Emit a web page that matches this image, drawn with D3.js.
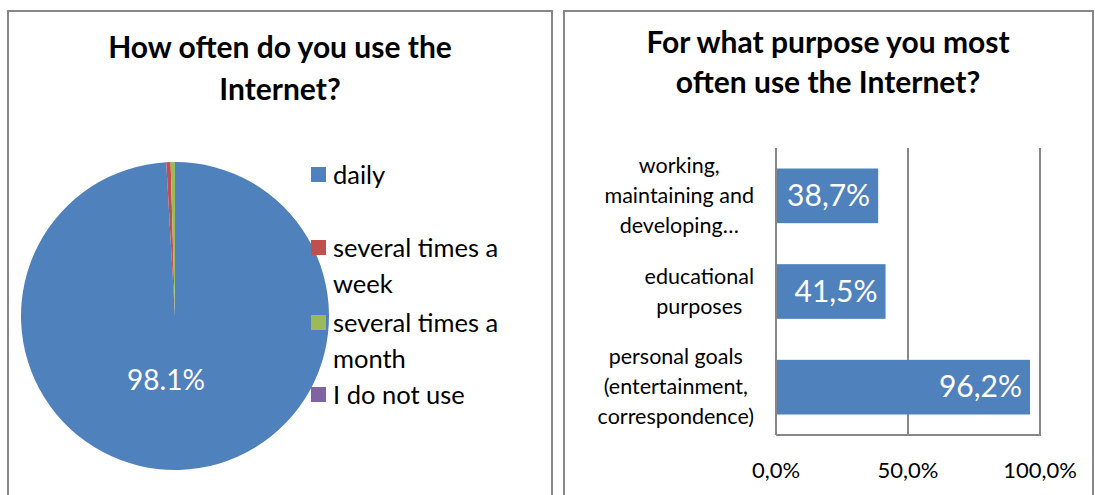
<!DOCTYPE html>
<html><head><meta charset="utf-8">
<script src="https://cdn.jsdelivr.net/npm/d3@7"></script>
<style>body{margin:0;background:#fff}svg{display:block}text{font-family:Lato,"Noto Sans",sans-serif}</style>
</head><body><svg id="c" width="1095" height="495"></svg>
<script>
// Pie data
const pieTitle = ["How often do you use the", "Internet?"];
const pieCategories = ["daily", "several times a week", "several times a month", "I do not use"];
const pieLegendLines = [["daily"], ["several times a", "week"], ["several times a", "month"], ["I do not use"]];
const pieValues = [98.1, 0.45, 0.45, 0];
const pieColors = ["#4F81BD", "#C0504D", "#9BBB59", "#8064A2"];
const pieLabel = "98.1%";

// Bar data
const barTitle = ["For what purpose you most", "often use the Internet?"];
const barCategories = [
  ["working,", "maintaining and", "developing…"],
  ["educational", "purposes"],
  ["personal goals", "(entertainment,", "correspondence)"]
];
const barValues = [38.7, 41.5, 96.2];
const barLabels = ["38,7%", "41,5%", "96,2%"];
const xTicks = [0, 50, 100];
const xTickLabels = ["0,0%", "50,0%", "100,0%"];

const svg = d3.select("#c");
const border = "#878787";

// panels
svg.append("rect").attr("x", 8).attr("y", 11).attr("width", 544).attr("height", 500)
  .attr("fill", "none").attr("stroke", border).attr("stroke-width", 2);
svg.append("rect").attr("x", 564).attr("y", 11).attr("width", 529).attr("height", 500)
  .attr("fill", "none").attr("stroke", border).attr("stroke-width", 2);

// ---------- Pie ----------
const g1 = svg.append("g");
g1.selectAll("text.title").data(pieTitle).join("text")
  .attr("x", 280).attr("y", (d, i) => 58 + i * 42)
  .attr("text-anchor", "middle").attr("font-size", 30).attr("font-weight", "bold")
  .attr("fill", "#000").text(d => d);

const cx = 175, cy = 316, r = 154;
const pie = d3.pie().sort(null).value(d => d)
  .startAngle(0).endAngle(2 * Math.PI);
const arcs = pie(pieValues);
const arc = d3.arc().innerRadius(0).outerRadius(r);
g1.append("g").attr("transform", `translate(${cx},${cy})`)
  .selectAll("path").data(arcs).join("path")
  .attr("d", arc).attr("fill", (d, i) => pieColors[i]);
g1.append("text").attr("x", 166).attr("y", 390).attr("text-anchor", "middle")
  .attr("font-size", 28).attr("fill", "#fff").text(pieLabel);

// legend
const legendY = [175, 248, 323, 395];
const lg = g1.append("g");
pieCategories.forEach((c, i) => {
  lg.append("rect").attr("x", 311).attr("y", legendY[i] - 8).attr("width", 15).attr("height", 15)
    .attr("fill", pieColors[i]);
  pieLegendLines[i].forEach((ln, j) => {
    lg.append("text").attr("x", 333).attr("y", legendY[i] + 9 + j * 36)
      .attr("font-size", 25.5).attr("fill", "#000").text(ln);
  });
});

// ---------- Bar ----------
const g2 = svg.append("g");
g2.selectAll("text.title").data(barTitle).join("text")
  .attr("x", 828).attr("y", (d, i) => 53 + i * 40)
  .attr("text-anchor", "middle").attr("font-size", 30).attr("font-weight", "bold")
  .attr("fill", "#000").text(d => d);

const x = d3.scaleLinear().domain([0, 100]).range([776, 1040]);
const y = d3.scaleBand().domain(d3.range(barCategories.length)).range([148, 435])
  .paddingInner(0.75 / 1.75).paddingOuter(0.375 / 1.75);

// gridlines
g2.selectAll("line.grid").data(xTicks).join("line")
  .attr("x1", d => x(d)).attr("x2", d => x(d)).attr("y1", 148).attr("y2", 435)
  .attr("stroke", border).attr("stroke-width", 2);
g2.append("line").attr("x1", 776).attr("x2", 1041).attr("y1", 435).attr("y2", 435)
  .attr("stroke", border).attr("stroke-width", 2);

// bars
g2.selectAll("rect.bar").data(barValues).join("rect")
  .attr("x", x(0) + 1).attr("y", (d, i) => y(i))
  .attr("width", d => x(d) - x(0) - 1).attr("height", y.bandwidth())
  .attr("fill", "#4F81BD");
g2.selectAll("text.val").data(barValues).join("text")
  .attr("x", d => x(d) - 8).attr("y", (d, i) => y(i) + y.bandwidth() / 2 + 10)
  .attr("text-anchor", "end").attr("font-size", 30).attr("fill", "#fff")
  .text((d, i) => barLabels[i]);

// x tick labels
g2.selectAll("text.tick").data(xTicks).join("text")
  .attr("x", d => x(d)).attr("y", 478).attr("text-anchor", "middle")
  .attr("font-size", 22).attr("fill", "#000").text((d, i) => xTickLabels[i]);

// category labels
const lineH = 30;
barCategories.forEach((lines, i) => {
  const cyb = y(i) + y.bandwidth() / 2;
  const grp = g2.append("g");
  const ts = lines.map((ln, j) => grp.append("text")
    .attr("y", cyb + (j - (lines.length - 1) / 2) * lineH + 7)
    .attr("font-size", 21.5).attr("text-anchor", "middle").attr("fill", "#000").text(ln));
  const maxW = d3.max(ts, t => t.node().getComputedTextLength());
  ts.forEach(t => t.attr("x", 754 - maxW / 2));
});
</script></body></html>
